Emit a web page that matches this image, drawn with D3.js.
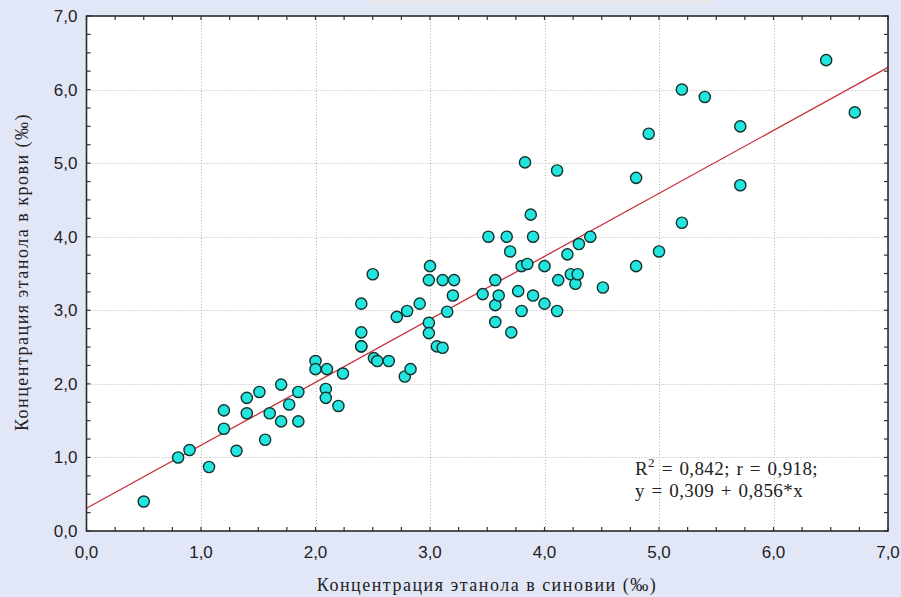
<!DOCTYPE html>
<html>
<head>
<meta charset="utf-8">
<script src="https://cdn.jsdelivr.net/npm/d3@7/dist/d3.min.js"></script>
<style>
  html, body { margin: 0; padding: 0; background: #e2e7f8; }
  svg { display: block; }
  .tick-lbl { font-family: "Liberation Sans", Arial, sans-serif; font-size: 17px; fill: #222; }
  .ax-title, .note { font-family: "Liberation Serif", "Times New Roman", serif; fill: #222; }
</style>
</head>
<body>
<div id="chart"></div>
<script>
// концентрация в синовии (x) и в крови (y), ‰
const synovia = [0.5, 0.8, 0.9, 1.07, 1.2, 1.2, 1.31, 1.4, 1.4, 1.51, 1.56, 1.6, 1.7, 1.7, 1.77, 1.85, 1.85,
  2.0, 2.0, 2.1, 2.09, 2.09, 2.2, 2.24, 2.4, 2.4, 2.4, 2.4, 2.5, 2.51, 2.54, 2.64, 2.71, 2.8, 2.78, 2.83, 2.91,
  3.0, 2.99, 2.99, 2.99, 3.06, 3.11, 3.11, 3.15, 3.2, 3.21, 3.46, 3.51, 3.57, 3.57, 3.57, 3.6, 3.67, 3.7, 3.71,
  3.77, 3.8, 3.8, 3.83, 3.85, 3.88, 3.9, 3.9, 4.0, 4.0, 4.11, 4.11, 4.12, 4.2, 4.23, 4.27, 4.29, 4.3, 4.4, 4.51,
  4.8, 4.8, 4.91, 5.0, 5.2, 5.2, 5.4, 5.71, 5.71, 6.46, 6.71];
const blood = [0.4, 1.0, 1.1, 0.87, 1.64, 1.39, 1.09, 1.6, 1.81, 1.89, 1.24, 1.6, 1.49, 1.99, 1.72, 1.49, 1.89,
  2.31, 2.2, 2.2, 1.93, 1.81, 1.7, 2.14, 2.51, 2.7, 3.09, 2.51, 3.49, 2.35, 2.31, 2.31, 2.91, 2.99, 2.1, 2.2, 3.09,
  3.6, 3.41, 2.83, 2.69, 2.51, 2.49, 3.41, 2.98, 3.2, 3.41, 3.22, 4.0, 3.41, 3.07, 2.84, 3.2, 4.0, 3.8, 2.7,
  3.26, 3.6, 2.99, 5.01, 3.63, 4.3, 4.0, 3.2, 3.6, 3.09, 4.9, 2.99, 3.41, 3.76, 3.49, 3.36, 3.49, 3.9, 4.0, 3.31,
  3.6, 4.8, 5.4, 3.8, 6.0, 4.19, 5.9, 5.5, 4.7, 6.4, 5.69];
const xTicks = [0, 1, 2, 3, 4, 5, 6, 7];
const yTicks = [0, 1, 2, 3, 4, 5, 6, 7];
const fit = { a: 0.309, b: 0.856 };
const noteLines = ["R2 = 0,842; r = 0,918;", "y = 0,309 + 0,856*x"];
const xTitle = "Концентрация этанола в синовии (‰)";
const yTitle = "Концентрация этанола в крови (‰)";

const W = 901, H = 597;
const m = { t: 16, r: 13, b: 66, l: 86.5 };
const fmt = v => d3.format(".1f")(v).replace(".", ",");

const svg = d3.select("#chart").append("svg").attr("width", W).attr("height", H);

// фон и серая полоска заголовка сверху
svg.append("rect").attr("width", W).attr("height", H).attr("fill", "#e2e7f8");
svg.append("rect").attr("x", 367).attr("y", 0).attr("width", 344).attr("height", 4).attr("fill", "#e9e6ea");

const x = d3.scaleLinear().domain([0, 7]).range([m.l, W - m.r]);
const y = d3.scaleLinear().domain([0, 7]).range([H - m.b, m.t]);
const [x0, x1] = x.range(), [y0, y1] = y.range();

svg.append("rect").attr("x", x0).attr("y", y1).attr("width", x1 - x0).attr("height", y0 - y1).attr("fill", "#fff");

// сетка
const grid = svg.append("g").attr("stroke", "#b4b4b4").attr("stroke-width", 1).attr("stroke-dasharray", "1,2");
grid.selectAll(".gx").data(xTicks.slice(1, -1)).join("line")
  .attr("x1", d => Math.round(x(d)) + 0.5).attr("x2", d => Math.round(x(d)) + 0.5).attr("y1", y1).attr("y2", y0);
grid.selectAll(".gy").data(yTicks.slice(1, -1)).join("line")
  .attr("y1", d => Math.round(y(d)) + 0.5).attr("y2", d => Math.round(y(d)) + 0.5).attr("x1", x0).attr("x2", x1);

// мелкие засечки внутрь по всем четырём сторонам
const minor = d3.range(0, 7.001, 0.25);
const tk = svg.append("g").attr("stroke", "#333").attr("stroke-width", 1.2);
minor.forEach(v => {
  tk.append("line").attr("x1", x(v)).attr("x2", x(v)).attr("y1", y0).attr("y2", y0 - 4);
  tk.append("line").attr("x1", x(v)).attr("x2", x(v)).attr("y1", y1).attr("y2", y1 + 4);
  tk.append("line").attr("y1", y(v)).attr("y2", y(v)).attr("x1", x0).attr("x2", x0 + 4);
  tk.append("line").attr("y1", y(v)).attr("y2", y(v)).attr("x1", x1).attr("x2", x1 - 4);
});

// линия регрессии
svg.append("line")
  .attr("x1", x(0)).attr("y1", y(fit.a)).attr("x2", x(7)).attr("y2", y(fit.a + fit.b * 7))
  .attr("stroke", "#c8323c").attr("stroke-width", 1.3);

// точки
svg.append("g").selectAll("circle").data(d3.zip(synovia, blood)).join("circle")
  .attr("cx", d => x(d[0])).attr("cy", d => y(d[1])).attr("r", 5.6)
  .attr("fill", "#22e6de").attr("stroke", "#14302f").attr("stroke-width", 1.4);

// рамка
svg.append("rect").attr("x", x0).attr("y", y1).attr("width", x1 - x0).attr("height", y0 - y1)
  .attr("fill", "none").attr("stroke", "#2a2a2a").attr("stroke-width", 1.6);

// подписи делений
svg.append("g").selectAll("text").data(xTicks).join("text").attr("class", "tick-lbl")
  .attr("x", d => x(d)).attr("y", y0 + 27).attr("text-anchor", "middle").text(fmt);
svg.append("g").selectAll("text").data(yTicks).join("text").attr("class", "tick-lbl")
  .attr("x", x0 - 9).attr("y", d => y(d) + 6).attr("text-anchor", "end").text(fmt);

// названия осей (шрифт шире, как в оригинале)
svg.append("text").attr("class", "ax-title").attr("font-size", 18).attr("letter-spacing", 1.5)
  .attr("x", 487).attr("y", 591).attr("text-anchor", "middle").text(xTitle);
svg.append("text").attr("class", "ax-title").attr("font-size", 18).attr("letter-spacing", 1.5)
  .attr("transform", `translate(28,272) rotate(-90)`).attr("text-anchor", "middle").text(yTitle);

// уравнение
const note = svg.append("g").attr("class", "note").attr("font-size", 19)
  .attr("letter-spacing", 0.4).attr("word-spacing", 1.5);
const t1 = note.append("text").attr("x", 635).attr("y", 475);
t1.append("tspan").text("R");
t1.append("tspan").attr("dy", -8).attr("font-size", 13).text("2");
t1.append("tspan").attr("dy", 8).text(noteLines[0].slice(2));
note.append("text").attr("x", 635).attr("y", 497).text(noteLines[1]);
</script>
</body>
</html>
